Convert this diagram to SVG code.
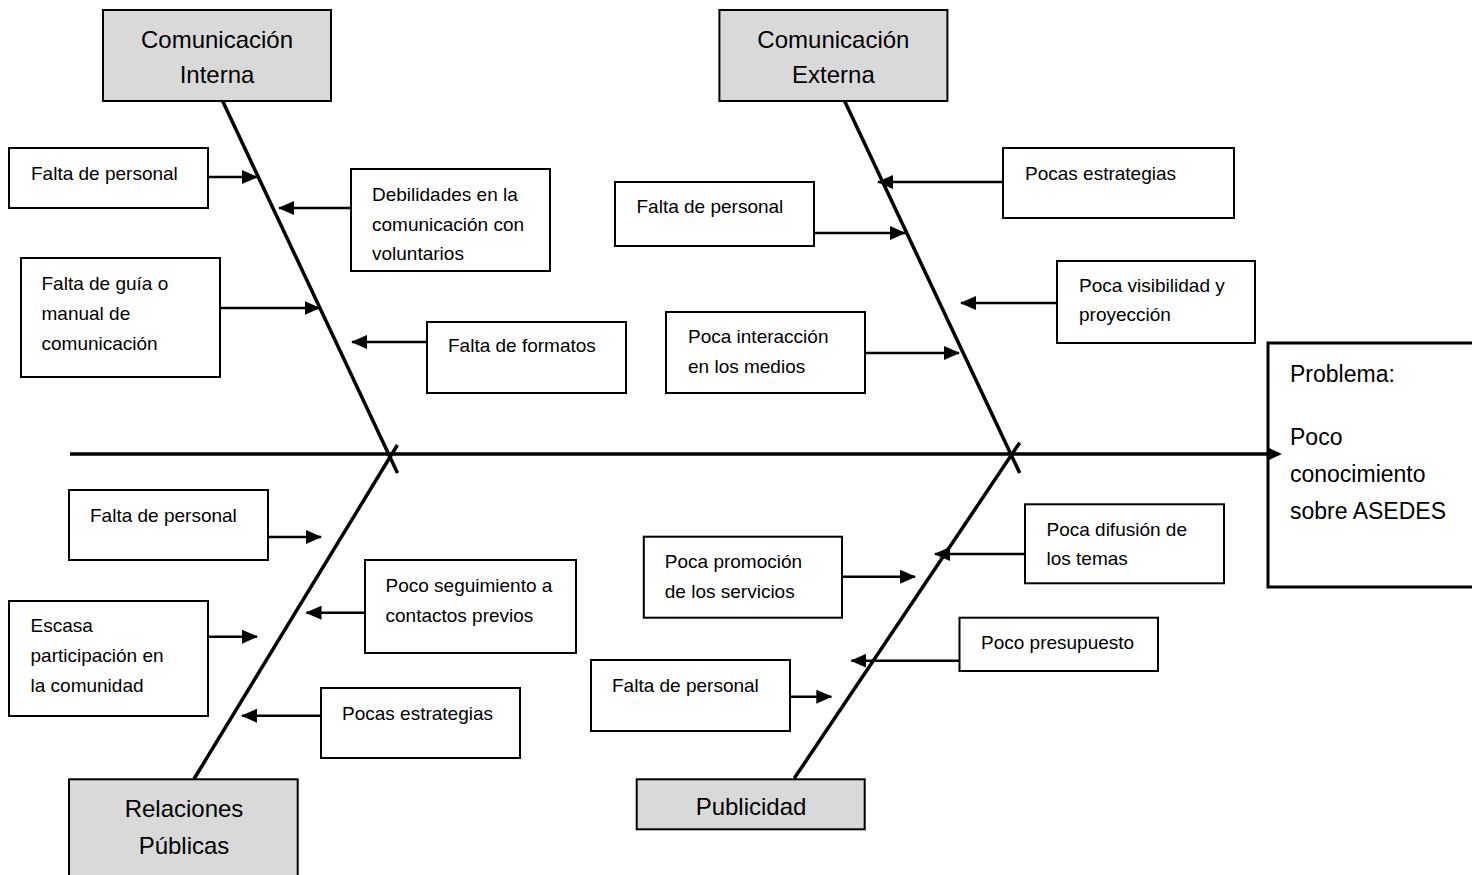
<svg xmlns="http://www.w3.org/2000/svg" width="1472" height="875" viewBox="0 0 1472 875">
<style>
.box{fill:#ffffff;stroke:#000;stroke-width:2}
.head{fill:#d9d9d9;stroke:#000;stroke-width:2}
.t{font-family:"Liberation Sans",Arial,sans-serif;font-size:19px;fill:#000}
.h{font-family:"Liberation Sans",Arial,sans-serif;font-size:24px;fill:#000;text-anchor:middle}
.p{font-family:"Liberation Sans",Arial,sans-serif;font-size:23px;fill:#000}
.bone{stroke:#000;stroke-width:3.5;fill:none}
.arr{stroke:#000;stroke-width:2.5;fill:none;marker-end:url(#ah)}
</style>
<defs>
<marker id="ah" markerWidth="16" markerHeight="14" refX="15" refY="7" orient="auto" markerUnits="userSpaceOnUse"><path d="M0,0 L16,7 L0,14 z" fill="#000"/></marker>
<marker id="sp" markerWidth="15" markerHeight="13" refX="0" refY="6.5" orient="auto" markerUnits="userSpaceOnUse"><path d="M0,0 L14,6.5 L0,13 z" fill="#000"/></marker>
</defs>
<rect width="1472" height="875" fill="#fff"/>

<g id="problem">
<rect x="1268" y="343" width="220" height="244" fill="#fff" stroke="#000" stroke-width="3"/>
<text class="p" x="1290" y="382">Problema:</text>
<text class="p" x="1290" y="445">Poco</text>
<text class="p" x="1290" y="482">conocimiento</text>
<text class="p" x="1290" y="519">sobre ASEDES</text>
</g>

<g id="connectors">
<line x1="70" y1="454" x2="1268" y2="454" stroke="#000" stroke-width="3.5" marker-end="url(#sp)"/>
<line class="bone" x1="222.6" y1="101" x2="397.5" y2="473"/>
<line class="bone" x1="844.6" y1="101" x2="1019.7" y2="473"/>
<line class="bone" x1="194" y1="779" x2="397.4" y2="445"/>
<line class="bone" x1="794.3" y1="778.3" x2="1019.7" y2="442.7"/>

<line class="arr" x1="208" y1="177" x2="257" y2="177"/>
<line class="arr" x1="351" y1="208" x2="279" y2="208"/>
<line class="arr" x1="220" y1="308" x2="319.5" y2="308"/>
<line class="arr" x1="427" y1="342" x2="352" y2="342"/>

<line class="arr" x1="1003" y1="182" x2="878" y2="182"/>
<line class="arr" x1="814" y1="233" x2="905" y2="233"/>
<line class="arr" x1="1057" y1="303" x2="961" y2="303"/>
<line class="arr" x1="865" y1="353" x2="959" y2="353"/>

<line class="arr" x1="268" y1="537" x2="321" y2="537"/>
<line class="arr" x1="365" y1="612.7" x2="306.5" y2="612.7"/>
<line class="arr" x1="208" y1="636.7" x2="257" y2="636.7"/>
<line class="arr" x1="321" y1="715.7" x2="242" y2="715.7"/>

<line class="arr" x1="1025" y1="554" x2="935" y2="554"/>
<line class="arr" x1="842" y1="576.7" x2="915" y2="576.7"/>
<line class="arr" x1="959.5" y1="660.7" x2="851.4" y2="660.7"/>
<line class="arr" x1="790" y1="696.7" x2="831.3" y2="696.7"/>
</g>

<g id="head-ci">
<rect class="head" x="103" y="10" width="228" height="91"/>
<text class="h" x="217" y="48">Comunicación</text>
<text class="h" x="217" y="83">Interna</text>
</g>
<g id="head-ce">
<rect class="head" x="719.4" y="10" width="228" height="91"/>
<text class="h" x="833.4" y="48">Comunicación</text>
<text class="h" x="833.4" y="83">Externa</text>
</g>
<g id="head-rp">
<rect class="head" x="69" y="779.3" width="228.7" height="110"/>
<text class="h" x="184" y="817">Relaciones</text>
<text class="h" x="184" y="854">Públicas</text>
</g>
<g id="head-pub">
<rect class="head" x="636.7" y="779.3" width="228" height="50"/>
<text class="h" x="751" y="815">Publicidad</text>
</g>

<g id="ci-falta-personal">
<rect class="box" x="9" y="148" width="199" height="60"/>
<text class="t" x="31" y="180">Falta de personal</text>
</g>
<g id="ci-debilidades">
<rect class="box" x="351" y="169" width="199" height="102"/>
<text class="t" x="372" y="201">Debilidades en la</text>
<text class="t" x="372" y="230.5">comunicación con</text>
<text class="t" x="372" y="260">voluntarios</text>
</g>
<g id="ci-guia">
<rect class="box" x="21" y="258" width="199" height="119"/>
<text class="t" x="41.5" y="290">Falta de guía o</text>
<text class="t" x="41.5" y="320">manual de</text>
<text class="t" x="41.5" y="350">comunicación</text>
</g>
<g id="ci-formatos">
<rect class="box" x="427" y="322" width="199" height="71"/>
<text class="t" x="448" y="352">Falta de formatos</text>
</g>

<g id="ce-estrategias">
<rect class="box" x="1003" y="148" width="231" height="70"/>
<text class="t" x="1025" y="180">Pocas estrategias</text>
</g>
<g id="ce-falta-personal">
<rect class="box" x="615" y="182" width="199" height="64"/>
<text class="t" x="636.5" y="213">Falta de personal</text>
</g>
<g id="ce-visibilidad">
<rect class="box" x="1057" y="261" width="198" height="82"/>
<text class="t" x="1079" y="292">Poca visibilidad y</text>
<text class="t" x="1079" y="321">proyección</text>
</g>
<g id="ce-interaccion">
<rect class="box" x="666" y="312" width="199" height="81"/>
<text class="t" x="688" y="343">Poca interacción</text>
<text class="t" x="688" y="373">en los medios</text>
</g>

<g id="rp-falta-personal">
<rect class="box" x="69" y="490" width="199" height="70"/>
<text class="t" x="90" y="522">Falta de personal</text>
</g>
<g id="rp-seguimiento">
<rect class="box" x="365" y="560" width="211" height="93"/>
<text class="t" x="385.5" y="592">Poco seguimiento a</text>
<text class="t" x="385.5" y="622">contactos previos</text>
</g>
<g id="rp-escasa">
<rect class="box" x="9" y="601" width="199" height="115"/>
<text class="t" x="30.5" y="632">Escasa</text>
<text class="t" x="30.5" y="662">participación en</text>
<text class="t" x="30.5" y="692">la comunidad</text>
</g>
<g id="rp-estrategias">
<rect class="box" x="321" y="688" width="199" height="70"/>
<text class="t" x="342" y="720">Pocas estrategias</text>
</g>

<g id="pub-difusion">
<rect class="box" x="1025" y="504.3" width="199" height="79"/>
<text class="t" x="1046.5" y="536">Poca difusión de</text>
<text class="t" x="1046.5" y="565">los temas</text>
</g>
<g id="pub-promocion">
<rect class="box" x="643.8" y="536.7" width="198.2" height="81"/>
<text class="t" x="664.8" y="568.3">Poca promoción</text>
<text class="t" x="664.8" y="597.7">de los servicios</text>
</g>
<g id="pub-presupuesto">
<rect class="box" x="959.5" y="617.7" width="198.5" height="53.3"/>
<text class="t" x="981" y="649">Poco presupuesto</text>
</g>
<g id="pub-falta-personal">
<rect class="box" x="591" y="660" width="199" height="71"/>
<text class="t" x="612" y="692">Falta de personal</text>
</g>
</svg>
